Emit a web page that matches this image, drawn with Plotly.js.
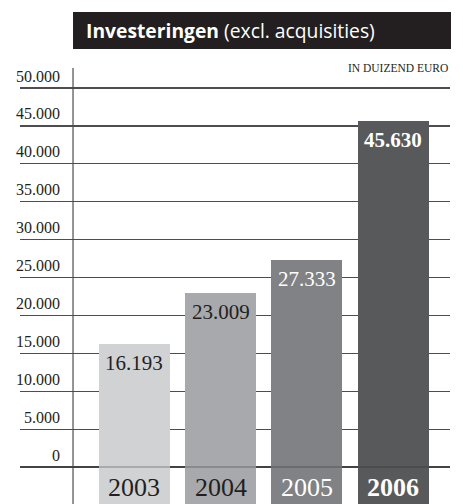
<!DOCTYPE html>
<html>
<head>
<meta charset="utf-8">
<script src="https://cdn.plot.ly/plotly-3.0.1.min.js"></script>
<style>
  html, body { margin: 0; padding: 0; background: #ffffff; }
  #chart { width: 463px; height: 504px; }
</style>
</head>
<body>
<div id="chart"></div>
<script>
const years = ['2003', '2004', '2005', '2006'];
const investments = [16193, 23009, 27333, 45630];
const valueLabels = ['16.193', '23.009', '27.333', '45.630'];
const tickValues = [0, 5000, 10000, 15000, 20000, 25000, 30000, 35000, 40000, 45000, 50000];
const tickLabels = ['0', '5.000', '10.000', '15.000', '20.000', '25.000', '30.000', '35.000', '40.000', '45.000', '50.000'];

(function () {
    const serif = '"Liberation Serif", "Times New Roman", serif';
    const sans = '"Open Sans", Lato, sans-serif';
    const barColors = ['#d1d2d4', '#a7a9ac', '#808285', '#58595b'];
    const textColors = ['#231f20', '#231f20', '#ffffff', '#ffffff'];
    const boldFlags = [false, false, false, true];
    const yRange = [-4881, 52639];

    const wrap = (txt, i) => boldFlags[i] ? '<b>' + txt + '</b>' : txt;

    const bars = [{
        type: 'bar',
        x: years,
        y: investments.map(v => v - yRange[0]),
        base: yRange[0],
        width: 0.824,
        marker: { color: barColors, line: { width: 0 } },
        hoverinfo: 'skip',
        showlegend: false
    }];

    const annotations = [];
    tickValues.forEach((v, i) => {
        annotations.push({
            xref: 'paper', yref: 'y', x: 0.0977, y: v,
            xanchor: 'right', yanchor: 'bottom', yshift: 1.5,
            text: tickLabels[i], showarrow: false,
            font: { family: serif, size: 16, color: '#231f20' }
        });
    });
    years.forEach((yr, i) => {
        annotations.push({
            xref: 'x', yref: 'y', x: i, y: investments[i],
            xanchor: 'center', yanchor: 'top', yshift: -5,
            text: wrap(valueLabels[i], i), showarrow: false,
            font: { family: serif, size: 21, color: textColors[i] }
        });
        annotations.push({
            xref: 'x', yref: 'paper', x: i, y: 0,
            xanchor: 'center', yanchor: 'bottom', yshift: 0,
            text: wrap(yr, i), showarrow: false,
            font: { family: serif, size: 26, color: textColors[i] }
        });
    });
    annotations.push({
        xref: 'paper', yref: 'paper', x: 0.149, y: 1.0849,
        xanchor: 'left', yanchor: 'middle',
        text: '<b>Investeringen</b> (excl. acquisities)', showarrow: false,
        font: { family: sans, size: 19.3, color: '#ffffff' }
    });
    annotations.push({
        xref: 'paper', yref: 'paper', x: 1.0, y: 0.999,
        xanchor: 'right', yanchor: 'middle',
        text: 'IN DUIZEND EURO', showarrow: false,
        font: { family: serif, size: 11.5, color: '#231f20' }
    });

    const layout = {
        width: 463,
        height: 504,
        margin: { l: 20, r: 13, t: 68, b: 0 },
        paper_bgcolor: '#ffffff',
        plot_bgcolor: '#ffffff',
        showlegend: false,
        bargap: 0,
        xaxis: {
            type: 'category',
            range: [-1.328, 3.66],
            showgrid: false, zeroline: false, showline: false,
            showticklabels: false, ticks: '', fixedrange: true
        },
        yaxis: {
            range: yRange,
            tickvals: tickValues,
            showticklabels: false, ticks: '',
            showgrid: true, gridcolor: '#4d4d4f', gridwidth: 1.2,
            zeroline: false, showline: false, fixedrange: true
        },
        shapes: [
            { type: 'rect', xref: 'paper', yref: 'paper', x0: 0.1233, x1: 1.0023, y0: 1.0436, y1: 1.1284,
              fillcolor: '#231f20', line: { width: 0 } },
            { type: 'line', xref: 'paper', yref: 'paper', x0: 0.1233, x1: 0.1233, y0: 0, y1: 1,
              line: { color: '#4d4d4f', width: 1.2 } },
            { type: 'line', xref: 'paper', yref: 'y', x0: 0, x1: 1, y0: 0, y1: 0, layer: 'above',
              line: { color: 'rgba(35,31,32,0.45)', width: 1.2 } }
        ],
        annotations: annotations
    };

    Plotly.newPlot('chart', bars, layout, { displayModeBar: false, staticPlot: true });
})();
</script>
</body>
</html>
